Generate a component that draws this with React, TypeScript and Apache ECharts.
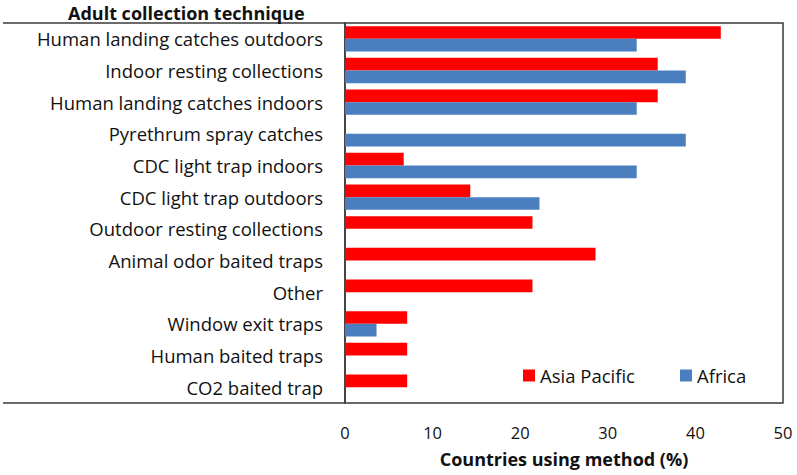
import React, { useEffect, useRef } from "react";
import * as echarts from "echarts";

const categories = [
  "Human landing catches outdoors",
  "Indoor resting collections",
  "Human landing catches indoors",
  "Pyrethrum spray catches",
  "CDC light trap indoors",
  "CDC light trap outdoors",
  "Outdoor resting collections",
  "Animal odor baited traps",
  "Other",
  "Window exit traps",
  "Human baited traps",
  "CO2 baited trap",
];
const asiaPacific = [42.9, 35.7, 35.7, 0, 6.7, 14.3, 21.4, 28.6, 21.4, 7.1, 7.1, 7.1];
const africa = [33.3, 38.9, 33.3, 38.9, 33.3, 22.2, 0, 0, 0, 3.6, 0, 0];
const xTicks = [0, 10, 20, 30, 40, 50];

const FONT = "'Open Sans', sans-serif";

export default function App() {
  const ref = useRef<HTMLDivElement>(null);
  useEffect(() => {
    if (!ref.current) return;
    const chart = echarts.init(ref.current, null, { renderer: "svg" });
    chart.setOption({
      animation: false,
      backgroundColor: "#ffffff",
      title: {
        text: "Adult collection technique",
        left: 68,
        top: 4,
        padding: 0,
        textStyle: { fontFamily: FONT, fontWeight: "bold", fontSize: 18, color: "#111" },
      },
      legend: {
        data: ["Asia Pacific", "Africa"],
        left: 518,
        top: 361,
        itemWidth: 12,
        itemHeight: 12,
        itemGap: 45,
        icon: "rect",
        textStyle: { fontFamily: FONT, fontSize: 18.5, color: "#111" },
      },
      grid: {
        left: 345,
        right: 14,
        top: 23,
        bottom: 72,
        show: true,
        borderColor: "#3a3a3a",
        borderWidth: 1.5,
        containLabel: false,
      },
      graphic: [
        { type: "line", shape: { x1: 3, y1: 23, x2: 345, y2: 23 }, style: { stroke: "#3a3a3a", lineWidth: 1.5 } },
        { type: "line", shape: { x1: 3, y1: 403, x2: 345, y2: 403 }, style: { stroke: "#3a3a3a", lineWidth: 1.5 } },
      ],
      xAxis: {
        type: "value",
        min: xTicks[0],
        max: xTicks[xTicks.length - 1],
        interval: 10,
        name: "Countries using method (%)",
        nameLocation: "middle",
        nameGap: 47,
        nameTextStyle: { fontFamily: FONT, fontWeight: "bold", fontSize: 18, color: "#111" },
        axisLine: { show: false },
        axisTick: { show: false },
        splitLine: { show: false },
        axisLabel: { fontFamily: FONT, fontSize: 16.5, color: "#111", margin: 21 },
      },
      yAxis: {
        type: "category",
        data: categories,
        inverse: true,
        axisLine: { show: true, lineStyle: { color: "#3a3a3a", width: 1.5 } },
        axisTick: { show: false },
        axisLabel: { fontFamily: FONT, fontSize: 18.5, color: "#111", margin: 22 },
      },
      series: [
        {
          name: "Asia Pacific",
          type: "bar",
          data: asiaPacific,
          itemStyle: { color: "#ff0000" },
          barGap: "0%",
          barCategoryGap: "20%",
        },
        {
          name: "Africa",
          type: "bar",
          data: africa,
          itemStyle: { color: "#4a7ebf" },
          barGap: "0%",
          barCategoryGap: "20%",
        },
      ],
    });
    return () => chart.dispose();
  }, []);
  return <div ref={ref} style={{ width: 797, height: 475, position: "absolute", left: 0, top: 0 }} />;
}
